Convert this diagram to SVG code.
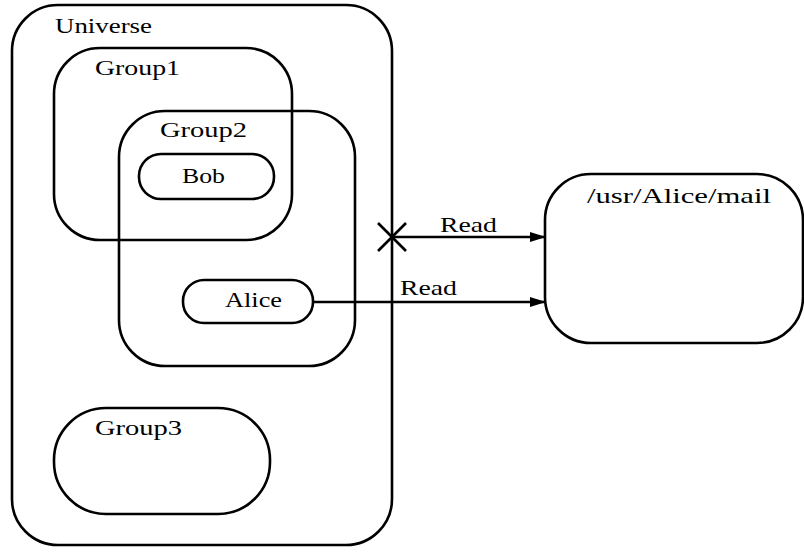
<svg xmlns="http://www.w3.org/2000/svg" width="804" height="554" viewBox="0 0 804 554">
<style>
.box{fill:none;stroke:#000;stroke-width:2.6}
.lbl{font-family:"Liberation Serif","DejaVu Serif",serif;font-size:21px;fill:#000}
.conn{stroke:#000;stroke-width:2.6;fill:none}
</style>
<defs>
<marker id="arr" markerUnits="userSpaceOnUse" markerWidth="18" markerHeight="12" refX="16" refY="6" orient="auto">
<path d="M0,1 L16,6 L0,11 Z" fill="#000"/>
</marker>
</defs>
<rect width="804" height="554" fill="#fff"/>
<g id="universe">
<rect class="box" x="12" y="5" width="380" height="540" rx="46" ry="46"/>
<text class="lbl" x="55" y="33" textLength="97" lengthAdjust="spacingAndGlyphs">Universe</text>
</g>
<g id="group1">
<rect class="box" x="54" y="48" width="238" height="192" rx="46" ry="46"/>
<text class="lbl" x="95" y="75" textLength="85" lengthAdjust="spacingAndGlyphs">Group1</text>
</g>
<g id="group2">
<rect class="box" x="119" y="111" width="236" height="255" rx="46" ry="46"/>
<text class="lbl" x="160" y="137" textLength="87" lengthAdjust="spacingAndGlyphs">Group2</text>
</g>
<g id="bob">
<rect class="box" x="139" y="154" width="135" height="45" rx="22" ry="22"/>
<text class="lbl" x="182" y="183" textLength="43" lengthAdjust="spacingAndGlyphs">Bob</text>
</g>
<g id="alice">
<rect class="box" x="183" y="280" width="130" height="43" rx="21" ry="21"/>
<text class="lbl" x="225" y="307" textLength="57" lengthAdjust="spacingAndGlyphs">Alice</text>
</g>
<g id="group3">
<rect class="box" x="54" y="408" width="216" height="106" rx="52" ry="52"/>
<text class="lbl" x="95" y="435" textLength="87" lengthAdjust="spacingAndGlyphs">Group3</text>
</g>
<g id="mail">
<rect class="box" x="545" y="174" width="258" height="169" rx="46" ry="46"/>
<text class="lbl" x="587" y="203" textLength="184" lengthAdjust="spacingAndGlyphs">/usr/Alice/mail</text>
</g>
<g id="connectors">
<line class="conn" x1="378" y1="223" x2="406" y2="251"/>
<line class="conn" x1="378" y1="251" x2="406" y2="223"/>
<line class="conn" x1="392" y1="237" x2="546" y2="237" marker-end="url(#arr)"/>
<text class="lbl" x="440" y="232" textLength="57" lengthAdjust="spacingAndGlyphs">Read</text>
<line class="conn" x1="313" y1="302" x2="546" y2="302" marker-end="url(#arr)"/>
<text class="lbl" x="400" y="295" textLength="57" lengthAdjust="spacingAndGlyphs">Read</text>
</g>
</svg>
